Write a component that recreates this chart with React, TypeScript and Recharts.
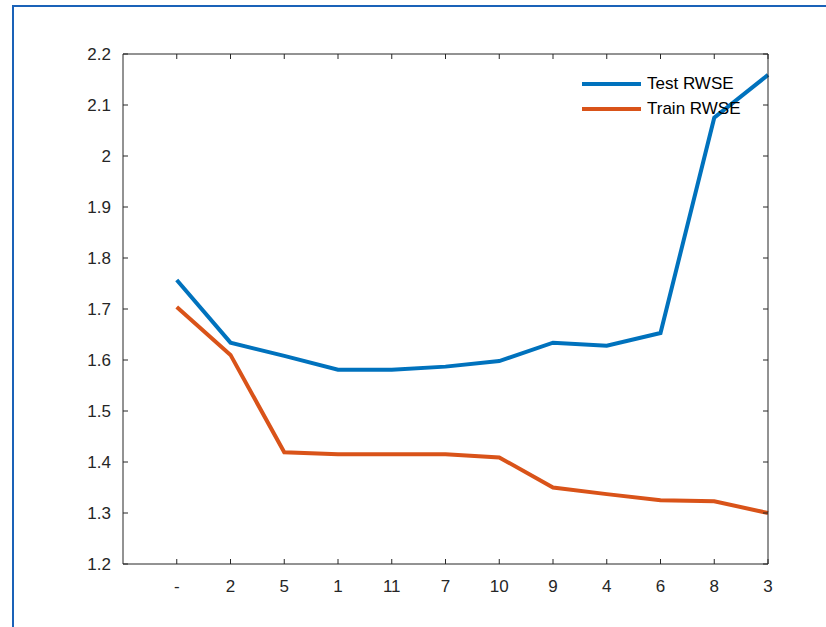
import React from 'react';
import { LineChart, Line, XAxis, YAxis, Legend } from 'recharts';

const categories = ['-', '2', '5', '1', '11', '7', '10', '9', '4', '6', '8', '3'];
const testRwse = [1.757, 1.634, 1.608, 1.581, 1.581, 1.587, 1.598, 1.634, 1.628, 1.653, 2.075, 2.159];
const trainRwse = [1.704, 1.61, 1.419, 1.415, 1.415, 1.415, 1.409, 1.35, 1.337, 1.325, 1.323, 1.3];
const yTicks = [1.2, 1.3, 1.4, 1.5, 1.6, 1.7, 1.8, 1.9, 2.0, 2.1, 2.2];

const xTicks = categories.map((_, i) => i + 1);
const data = categories.map((c, i) => ({ x: i + 1, label: c, test: testRwse[i], train: trainRwse[i] }));

const axisColor = '#262626';
const font = '"Liberation Sans", Arial, Helvetica, sans-serif';
const blue = '#0072BD';
const orange = '#D95319';
const TICK_LEN = 5;
const MARGIN_BOTTOM = 16;
const MARGIN_LEFT = 12;

const fmtY = (v: number) => String(Number(v.toFixed(1)));
const fmtX = (v: number) => categories[v - 1] ?? '';

// MATLAB-style ticks point into the plot box, so draw them ourselves
function BottomTick(props: any) {
  const { x, y, payload } = props;
  const base = y - MARGIN_BOTTOM;
  return (
    <g>
      <line x1={x} x2={x} y1={base} y2={base - TICK_LEN} stroke={axisColor} strokeWidth={1} />
      <text x={x} y={y} dy="0.71em" textAnchor="middle" fill={axisColor} fontSize={17} fontFamily={font}>
        {fmtX(payload.value)}
      </text>
    </g>
  );
}

function LeftTick(props: any) {
  const { x, y, payload } = props;
  const base = x + MARGIN_LEFT;
  return (
    <g>
      <line x1={base} x2={base + TICK_LEN} y1={y} y2={y} stroke={axisColor} strokeWidth={1} />
      <text x={x} y={y} dy="0.355em" textAnchor="end" fill={axisColor} fontSize={17} fontFamily={font}>
        {fmtY(payload.value)}
      </text>
    </g>
  );
}

function TopTick(props: any) {
  const { x, y } = props;
  const base = y + 2;
  return <line x1={x} x2={x} y1={base} y2={base + TICK_LEN} stroke={axisColor} strokeWidth={1} />;
}

function RightTick(props: any) {
  const { x, y } = props;
  const base = x - 2;
  return <line x1={base} x2={base - TICK_LEN} y1={y} y2={y} stroke={axisColor} strokeWidth={1} />;
}

function MatlabLegend() {
  const items = [
    { name: 'Test RWSE', color: blue },
    { name: 'Train RWSE', color: orange },
  ];
  return (
    <div style={{ fontFamily: font, fontSize: 17, color: '#000' }}>
      {items.map((it) => (
        <div key={it.name} style={{ display: 'flex', alignItems: 'center', height: 24.5 }}>
          <div style={{ width: 59, height: 4, background: it.color, marginRight: 6 }} />
          <span>{it.name}</span>
        </div>
      ))}
    </div>
  );
}

export default function App() {
  return (
    <div style={{ position: 'absolute', left: 0, top: 0, width: 826, height: 627, background: '#fff', overflow: 'hidden' }}>
      <div
        style={{
          position: 'absolute',
          left: 12,
          top: 5,
          width: 900,
          height: 700,
          borderLeft: '2px solid #1a62b8',
          borderTop: '2px solid #1a62b8',
        }}
      />
      <LineChart
        width={826}
        height={627}
        data={data}
        margin={{ top: 53, right: 57, bottom: 33, left: 83 }}
        style={{ position: 'absolute', left: 0, top: 0 }}
      >
        <XAxis
          dataKey="x"
          type="number"
          domain={[0, 12]}
          ticks={xTicks}
          height={30}
          tickLine={false}
          tickSize={0}
          tickMargin={MARGIN_BOTTOM}
          interval={0}
          stroke={axisColor}
          tick={BottomTick}
        />
        <XAxis
          xAxisId="top"
          dataKey="x"
          orientation="top"
          type="number"
          domain={[0, 12]}
          ticks={xTicks}
          height={1}
          tickLine={false}
          tickSize={0}
          interval={0}
          stroke={axisColor}
          tick={TopTick}
        />
        <YAxis
          type="number"
          domain={[1.2, 2.2]}
          ticks={yTicks}
          width={40}
          tickLine={false}
          tickSize={0}
          tickMargin={MARGIN_LEFT}
          interval={0}
          allowDataOverflow
          stroke={axisColor}
          tick={LeftTick}
        />
        <YAxis
          yAxisId="right"
          orientation="right"
          type="number"
          domain={[1.2, 2.2]}
          ticks={yTicks}
          width={1}
          tickLine={false}
          tickSize={0}
          interval={0}
          allowDataOverflow
          stroke={axisColor}
          tick={RightTick}
        />
        <Legend
          layout="vertical"
          align="center"
          verticalAlign="middle"
          content={() => <MatlabLegend />}
          wrapperStyle={{ position: 'absolute', left: 582, top: 72, width: 180 }}
        />
        <Line
          xAxisId="top"
          yAxisId="right"
          dataKey="test"
          stroke="none"
          dot={false}
          activeDot={false}
          legendType="none"
          isAnimationActive={false}
        />
        <Line
          dataKey="test"
          name="Test RWSE"
          stroke={blue}
          strokeWidth={4}
          dot={false}
          activeDot={false}
          isAnimationActive={false}
        />
        <Line
          dataKey="train"
          name="Train RWSE"
          stroke={orange}
          strokeWidth={4}
          dot={false}
          activeDot={false}
          isAnimationActive={false}
        />
      </LineChart>
    </div>
  );
}
